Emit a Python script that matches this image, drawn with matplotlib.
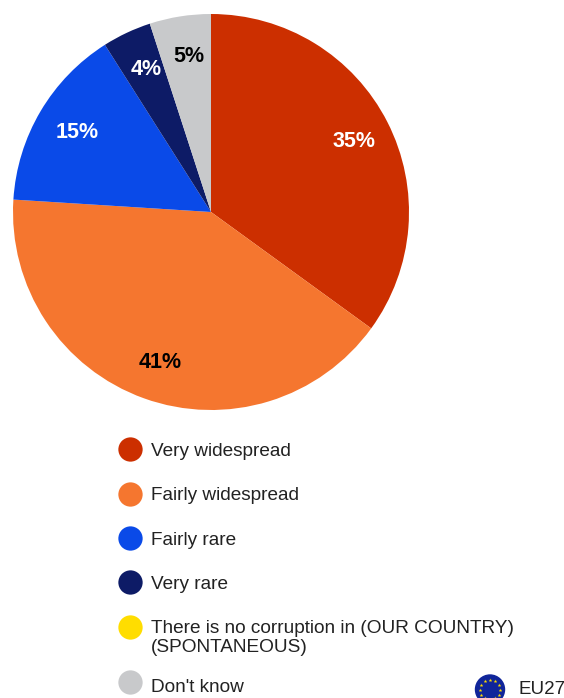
import numpy as np
import matplotlib
matplotlib.use('Agg')
import matplotlib.pyplot as plt
from matplotlib.lines import Line2D

plt.rcParams['font.family'] = ['Liberation Sans', 'DejaVu Sans']

W, H = 564, 698

slice_values = [35, 41, 15, 4, 5]
slice_colors = ['#CC2F00', '#F5762F', '#0A4AE8', '#0D1B66', '#C8C9CB']
pct_colors = ['white', 'black', 'white', 'white', 'black']

legend_labels = ['Very widespread', 'Fairly widespread', 'Fairly rare', 'Very rare',
                 'There is no corruption in (OUR COUNTRY)\n(SPONTANEOUS)', "Don't know"]
legend_colors = ['#CC2F00', '#F5762F', '#0A4AE8', '#0D1B66', '#FFDD00', '#C8C9CB']

fig = plt.figure(figsize=(W / 100, H / 100), dpi=100, facecolor='white')

# pie sits in its own square axes, centre about (211, 212) px
ax = fig.add_axes([13 / W, 1 - 410 / H, 396 / W, 396 / H])
wedges, texts, pcts = ax.pie(slice_values, colors=slice_colors, startangle=90, counterclock=False,
                             radius=1, autopct='%d%%', pctdistance=0.8)
for t, c in zip(pcts, pct_colors):
    t.set_color(c)
    t.set_fontsize(15.5)
    t.set_fontweight('bold')
    # labels sit a touch right and low of the wedge centre line
    px, py = t.get_position()
    t.set_position((px + 0.012, py - 0.006))
ax.set_xlim(-1, 1)
ax.set_ylim(-1, 1)

handles = [Line2D([], [], linestyle='none', marker='o', markersize=17.5, markerfacecolor=c,
                  markeredgecolor='none') for c in legend_colors]
leg = fig.legend(handles, legend_labels, loc='upper left', bbox_to_anchor=(105 / W, 1 - 437 / H),
                 frameon=False, fontsize=13.7, labelspacing=1.42, handletextpad=0.1,
                 handlelength=2.0, labelcolor='#222222', borderpad=0.3, borderaxespad=0)
for t in leg.get_texts():
    t.set_linespacing(1.13)

# two-line row: marker goes up beside the first line, last row closes the gap
h5, h6 = leg.legend_handles[4], leg.legend_handles[5]
h5.set_ydata(np.asarray(h5.get_ydata()) + 8.0)
h6.set_ydata(np.asarray(h6.get_ydata()) + 5.5)
leg.get_texts()[5].set_y(4)

# EU flag badge, pixel coordinates
over = fig.add_axes([0, 0, 1, 1])
over.set_xlim(0, W)
over.set_ylim(H, 0)
over.axis('off')
over.patch.set_alpha(0)
over.add_patch(plt.Circle((490, 689.5), 14.5, color='#10259A'))
ang = np.linspace(0, 2 * np.pi, 12, endpoint=False)
over.scatter(490 + 10 * np.cos(ang), 689.5 + 10 * np.sin(ang), s=8, marker='*', color='#FFDD00', linewidths=0)
over.text(518, 689, 'EU27', fontsize=13.5, color='#222222', va='center', ha='left')

fig.savefig('out.png', dpi=100)
